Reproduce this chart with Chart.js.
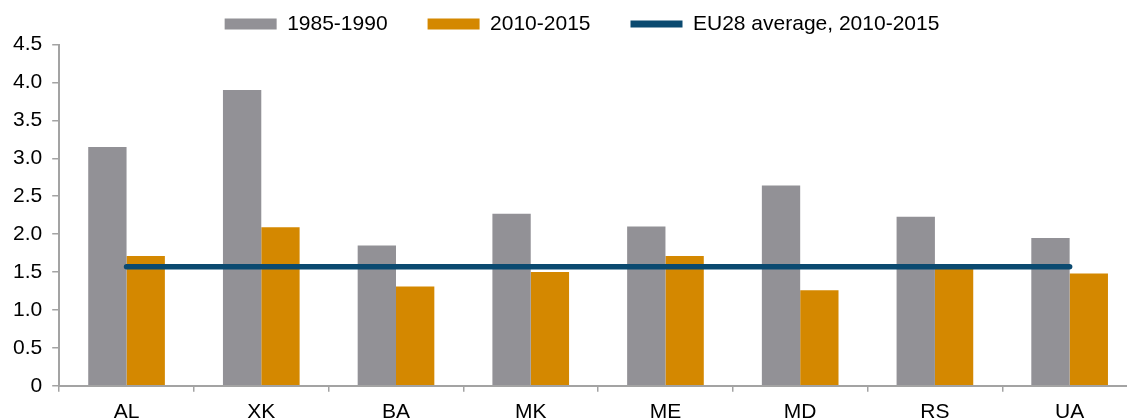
<!DOCTYPE html>
<html>
<head>
<meta charset="utf-8">
<script src="https://cdn.jsdelivr.net/npm/chart.js@4"></script>
<style>
  body { margin: 0; background: #fff; overflow: hidden; }
  #wrap { width: 1137px; height: 420px; }
</style>
</head>
<body>
<div id="wrap"><canvas id="grafico" width="1137" height="420"></canvas></div>
<script>
const paises = ["AL", "XK", "BA", "MK", "ME", "MD", "RS", "UA"];
const periodo1985 = [3.15, 3.90, 1.85, 2.27, 2.10, 2.64, 2.23, 1.95];
const periodo2010 = [1.71, 2.09, 1.31, 1.50, 1.71, 1.26, 1.58, 1.48];
const mediaEU28 = [1.57, 1.57, 1.57, 1.57, 1.57, 1.57, 1.57, 1.57];
const ticksY = [0, 0.5, 1.0, 1.5, 2.0, 2.5, 3.0, 3.5, 4.0, 4.5];

const fonte = { family: "'Liberation Sans', Arial, sans-serif", size: 21 };
const corEixo = "#a3a3a3";

// a legenda do original fica um pouco à direita do centro
const deslocaLegenda = {
  id: "deslocaLegenda",
  afterLayout(chart) {
    chart.legend.left += 12;
    chart.legend.right += 12;
  }
};

const ctx = document.getElementById("grafico").getContext("2d");
new Chart(ctx, {
  type: "bar",
  data: {
    labels: paises,
    datasets: [
      {
        label: "1985-1990",
        data: periodo1985,
        backgroundColor: "#929196",
        borderWidth: 0,
        pointStyle: "rect",
        order: 1
      },
      {
        label: "2010-2015",
        data: periodo2010,
        backgroundColor: "#d48800",
        borderWidth: 0,
        pointStyle: "rect",
        order: 1
      },
      {
        type: "line",
        label: "EU28 average, 2010-2015",
        data: mediaEU28,
        borderColor: "#0b4a70",
        backgroundColor: "#0b4a70",
        borderWidth: 5.5,
        borderCapStyle: "round",
        pointRadius: 0,
        pointHoverRadius: 0,
        pointStyle: "line",
        fill: false,
        order: 0
      }
    ]
  },
  options: {
    responsive: false,
    animation: false,
    devicePixelRatio: 1,
    layout: { padding: { left: 3, right: 0, top: -26.5, bottom: -13 } },
    datasets: {
      bar: { categoryPercentage: 0.569, barPercentage: 1 }
    },
    plugins: {
      tooltip: { enabled: false },
      legend: {
        position: "top",
        maxHeight: 71,
        labels: {
          font: fonte,
          color: "#000",
          padding: 40,
          usePointStyle: true,
          pointStyleWidth: 52,
          boxHeight: 11,
          sort: (a, b) => a.datasetIndex - b.datasetIndex,
          generateLabels: function(chart) {
            const itens = Chart.defaults.plugins.legend.labels.generateLabels(chart);
            itens.forEach(it => { if (it.pointStyle === "line") it.lineWidth = 7; });
            return itens;
          }
        }
      }
    },
    scales: {
      x: {
        grid: { drawOnChartArea: false, drawTicks: true, tickLength: 6, color: corEixo, lineWidth: 1.5 },
        border: { color: corEixo, width: 2 },
        ticks: { font: fonte, color: "#000", padding: 8, maxRotation: 0 }
      },
      y: {
        min: 0,
        max: 4.5,
        afterBuildTicks: axis => { axis.ticks = ticksY.map(v => ({ value: v })); },
        grid: { drawOnChartArea: false, drawTicks: true, tickLength: 7, color: corEixo, lineWidth: 1.5 },
        border: { color: corEixo, width: 2 },
        ticks: {
          font: fonte,
          color: "#000",
          padding: 10,
          callback: v => v === 0 ? "0" : v.toFixed(1)
        }
      }
    }
  },
  plugins: [deslocaLegenda]
});
</script>
</body>
</html>
